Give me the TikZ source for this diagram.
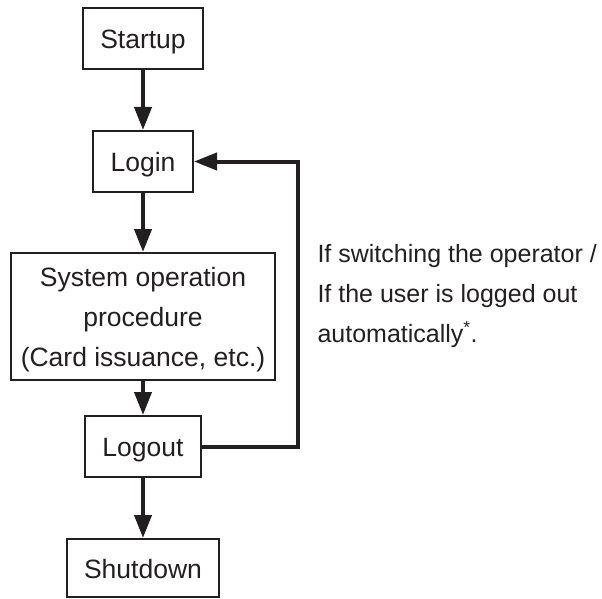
\documentclass[tikz,border=0pt]{standalone}
\usepackage{fontspec}
\setmainfont{Liberation Sans}
\usepackage{tikz}
\usetikzlibrary{arrows.meta, positioning}

\definecolor{ink}{RGB}{35,31,32}

\begin{document}
\begin{tikzpicture}[x=1pt, y=-1pt, >={Triangle[length=23pt, width=17pt]},
	every node/.style={font=\fontsize{26.5}{40}\selectfont, text=ink},
	box/.style={draw=ink, line width=2pt, minimum height=61pt, inner sep=0pt, align=center},
	line/.style={text height=20pt, text depth=0pt},
	flow/.style={->, draw=ink, line width=4pt}]

	\useasboundingbox (0,0) rectangle (602,599);

	\node [box, line, minimum width=120pt] (start) at (143,38.5) {Startup};
	\node [box, line, minimum width=100pt] (login) [below=60pt of start] {Login};
	\node [box, minimum width=264pt, minimum height=127pt] (sysop) [below=59pt of login]
		{\rule{0pt}{26pt}System operation\\ procedure\\ (Card issuance, etc.)};
	\node [box, line, minimum width=116pt] (logout) [below=34pt of sysop] {Logout};
	\node [box, line, minimum width=152pt, minimum height=58pt] (shutdown) [below=60pt of logout] {Shutdown};

	\coordinate (back) at (298,300);

	\draw [flow] (start) -- (login);
	\draw [flow] (login) -- (sysop);
	\draw [flow] (sysop) -- (logout);
	\draw [flow] (logout) -- (shutdown);
	\draw [flow] (logout.east) -| (back) |- (login.east);

	\node [anchor=west, align=left, font=\fontsize{25}{40}\selectfont] (note) at (314,296.5)
		{If switching the operator /\\ If the user is logged out\\ automatically\textsuperscript{*}.};

\end{tikzpicture}
\end{document}
